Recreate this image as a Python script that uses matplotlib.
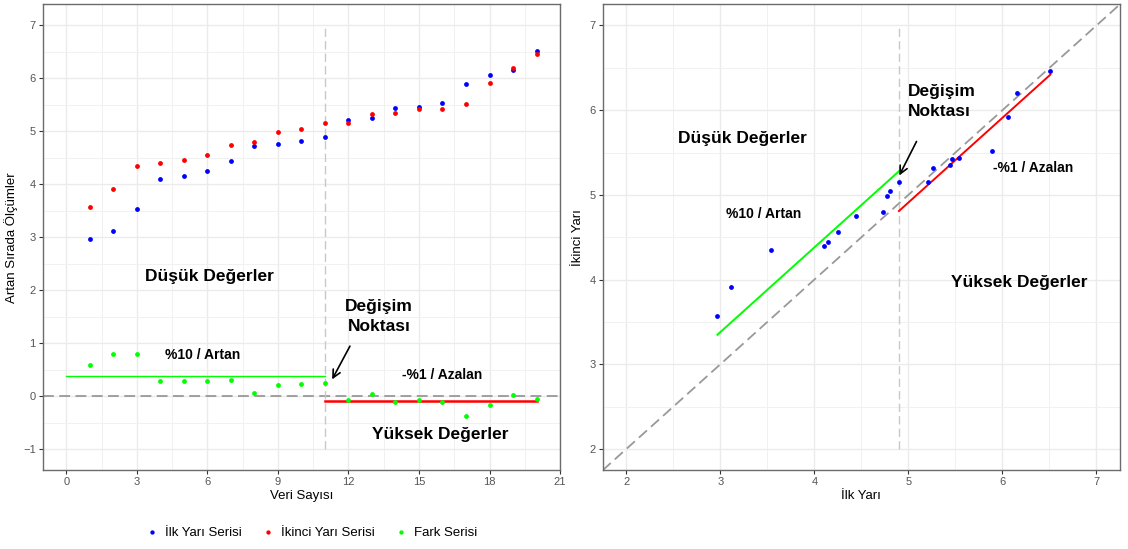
import numpy as np
import matplotlib
matplotlib.use('Agg')
import matplotlib.pyplot as plt
from matplotlib.ticker import MultipleLocator

plt.rcParams['font.family'] = ['Liberation Sans', 'DejaVu Sans']

# data
veri_sayisi = list(range(1, 21))
ilk_yari = [2.97, 3.11, 3.54, 4.10, 4.15, 4.25, 4.44, 4.73, 4.77, 4.81,
            4.90, 5.21, 5.26, 5.44, 5.46, 5.54, 5.89, 6.06, 6.16, 6.51]
ikinci_yari = [3.57, 3.91, 4.35, 4.40, 4.45, 4.56, 4.75, 4.80, 4.99, 5.05,
               5.15, 5.15, 5.32, 5.35, 5.42, 5.43, 5.52, 5.92, 6.20, 6.46]
fark = [0.59, 0.79, 0.79, 0.29, 0.29, 0.29, 0.30, 0.05, 0.21, 0.22,
        0.24, -0.07, 0.04, -0.11, -0.07, -0.12, -0.38, -0.16, 0.02, -0.06]
artan_seviye = 0.38      # %10 / Artan
azalan_seviye = -0.09    # -%1 / Azalan
degisim_sira = 11
degisim_deger = 4.9

MAVI, KIRMIZI, YESIL = '#0000ff', '#ff0000', '#00ff00'
IZGARA = '#ebebeb'
BUYUK, KUCUK = 12.5, 10

fig = plt.figure(figsize=(11.28, 5.49), dpi=100)
ax1 = fig.add_axes([0.0379, 0.1434, 0.4586, 0.8488])
ax2 = fig.add_axes([0.5343, 0.1434, 0.4586, 0.8488])


def tema(ax):
    # ggplot theme_light-like look
    for s in ax.spines.values():
        s.set_color('#6b6b6b')
        s.set_linewidth(1.0)
    ax.tick_params(which='major', length=3, width=0.8, color='#333333',
                   labelsize=8, labelcolor='#555555', pad=2)
    ax.tick_params(which='minor', length=0)
    ax.grid(which='major', color=IZGARA, linewidth=1.0)
    ax.grid(which='minor', color='#f1f1f1', linewidth=0.7)
    ax.set_axisbelow(True)


# # Grafik 1 : sirali olcumler
tema(ax1)
ax1.set_xlim(-1, 21)
ax1.set_ylim(-1.4, 7.4)
ax1.xaxis.set_major_locator(MultipleLocator(3))
ax1.xaxis.set_minor_locator(MultipleLocator(1.5))
ax1.yaxis.set_major_locator(MultipleLocator(1))
ax1.yaxis.set_minor_locator(MultipleLocator(0.5))
ax1.set_yticks(range(-1, 8))
ax1.set_yticklabels(['\u22121'] + [str(i) for i in range(0, 8)])

ax1.axhline(0, color='#999999', linestyle=(0, (6, 3)), linewidth=1.3, zorder=1)
ax1.plot([degisim_sira, degisim_sira], [-1, 7], color='#c8c8c8',
         linestyle=(0, (6, 3)), linewidth=1.0, zorder=1)
ax1.plot([0, degisim_sira], [artan_seviye, artan_seviye], color=YESIL, linewidth=1.0)
ax1.plot([degisim_sira, 20], [azalan_seviye, azalan_seviye], color=KIRMIZI, linewidth=1.8)

ax1.scatter(veri_sayisi, ilk_yari, s=12, color=MAVI, zorder=3, linewidths=0, label='İlk Yarı Serisi')
ax1.scatter(veri_sayisi, ikinci_yari, s=12, color=KIRMIZI, zorder=3, linewidths=0, label='İkinci Yarı Serisi')
ax1.scatter(veri_sayisi, fark, s=12, color=YESIL, zorder=3, linewidths=0, label='Fark Serisi')

ax1.text(6.1, 2.25, 'Düşük Değerler', fontsize=BUYUK, fontweight='bold', ha='center', va='center')
ax1.text(5.8, 0.77, '%10 / Artan', fontsize=KUCUK, fontweight='bold', ha='center', va='center')
ax1.text(13.3, 1.5, 'Değişim\nNoktası', fontsize=BUYUK, fontweight='bold', ha='center', va='center',
         linespacing=1.45)
ax1.text(16.0, 0.4, '-%1 / Azalan', fontsize=KUCUK, fontweight='bold', ha='center', va='center')
ax1.text(15.9, -0.73, 'Yüksek Değerler', fontsize=BUYUK, fontweight='bold', ha='center', va='center')
ax1.annotate('', xy=(11.25, 0.27), xytext=(12.12, 0.99),
             arrowprops=dict(arrowstyle='->', color='black', lw=1.2, mutation_scale=14))

ax1.set_xlabel('Veri Sayısı', fontsize=9.5, labelpad=2)
ax1.set_ylabel('Artan Sırada Ölçümler', fontsize=9.5, labelpad=4)

# # Grafik 2 : ilk yari vs ikinci yari
tema(ax2)
ax2.set_xlim(1.75, 7.25)
ax2.set_ylim(1.75, 7.25)
for eksen in (ax2.xaxis, ax2.yaxis):
    eksen.set_major_locator(MultipleLocator(1))
    eksen.set_minor_locator(MultipleLocator(0.5))

ax2.plot([1.75, 7.25], [1.75, 7.25], color='#999999', linestyle=(0, (6, 3)), linewidth=1.3, zorder=1)
ax2.plot([degisim_deger, degisim_deger], [2, 7], color='#c8c8c8',
         linestyle=(0, (6, 3)), linewidth=1.0, zorder=1)
x_artan = np.array([min(ilk_yari), degisim_deger])
ax2.plot(x_artan, x_artan + artan_seviye, color=YESIL, linewidth=1.4)
x_azalan = np.array([degisim_deger, max(ilk_yari)])
ax2.plot(x_azalan, x_azalan + azalan_seviye, color=KIRMIZI, linewidth=1.4)

ax2.scatter(ilk_yari, ikinci_yari, s=12, color=MAVI, zorder=3, linewidths=0)

ax2.text(3.24, 5.67, 'Düşük Değerler', fontsize=BUYUK, fontweight='bold', ha='center', va='center')
ax2.text(3.46, 4.78, '%10 / Artan', fontsize=KUCUK, fontweight='bold', ha='center', va='center')
ax2.text(5.0, 6.1, 'Değişim\nNoktası', fontsize=BUYUK, fontweight='bold', ha='left', va='center',
         linespacing=1.45)
ax2.text(6.33, 5.32, '-%1 / Azalan', fontsize=KUCUK, fontweight='bold', ha='center', va='center')
ax2.text(6.18, 3.97, 'Yüksek Değerler', fontsize=BUYUK, fontweight='bold', ha='center', va='center')
ax2.annotate('', xy=(4.89, 5.2), xytext=(5.1, 5.66),
             arrowprops=dict(arrowstyle='->', color='black', lw=1.2, mutation_scale=14))

ax2.set_xlabel('İlk Yarı', fontsize=9.5, labelpad=2)
ax2.set_ylabel('İkinci Yarı', fontsize=9.5, labelpad=4)

# legend under the left panel
fig.legend(*ax1.get_legend_handles_labels(), loc='center', bbox_to_anchor=(0.276, 0.03),
           ncol=3, frameon=False, fontsize=9.5, handletextpad=0.5, columnspacing=1.5,
           markerscale=0.9, handlelength=1.0)

fig.savefig('out.png', dpi=100)
